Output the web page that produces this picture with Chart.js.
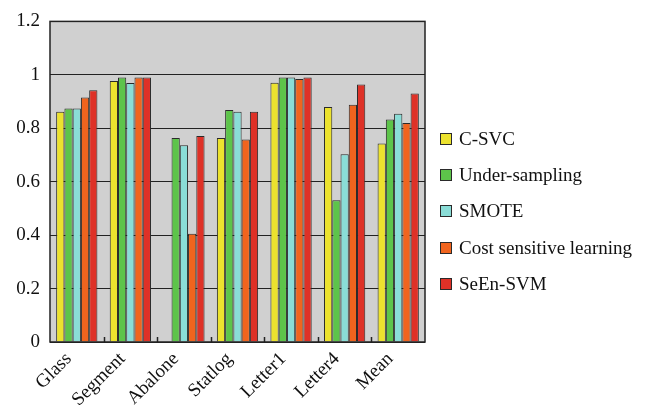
<!DOCTYPE html>
<html><head><meta charset="utf-8">
<script src="https://cdn.jsdelivr.net/npm/chart.js@4/dist/chart.umd.min.js"></script>
<style>
html,body{margin:0;padding:0;background:#fff;}
#wrap{position:relative;width:646px;height:405px;}
#legend{position:absolute;left:440px;top:0;font-family:'Liberation Serif',serif;font-size:19px;color:#111;}
.li{position:absolute;left:0;white-space:nowrap;height:20px;line-height:20px;}
.li span.b{position:absolute;left:0;top:4px;width:10px;height:10px;border:1px solid #2a2a2a;}
.li span.t{position:absolute;left:19px;top:0;}
</style>
</head><body><div id="wrap"><canvas id="c" width="646" height="405"></canvas><div id="legend"></div></div>
<script>
const categories = ["Glass","Segment","Abalone","Statlog","Letter1","Letter4","Mean"];
const seriesNames = ["C-SVC","Under-sampling","SMOTE","Cost sensitive learning","SeEn-SVM"];
const cSVC = [0.862,0.977,0,0.764,0.970,0.880,0.743];
const underSampling = [0.874,0.990,0.764,0.868,0.990,0.531,0.833];
const smote = [0.874,0.969,0.736,0.862,0.990,0.703,0.854];
const costSensitive = [0.915,0.990,0.405,0.758,0.984,0.888,0.820];
const seEnSVM = [0.942,0.990,0.771,0.862,0.990,0.964,0.930];
const yTicks = [0,0.2,0.4,0.6,0.8,1,1.2];
const colors = ["#ECE22E","#5DC44A","#8ADDD7","#F0641E","#DE3127"];
const values = [cSVC,underSampling,smote,costSensitive,seEnSVM];

const legendTops = [129,165,201,238,274];
const lg = document.getElementById('legend');
seriesNames.forEach((n,i)=>{
  const d=document.createElement('div'); d.className='li'; d.style.top=legendTops[i]+'px';
  d.innerHTML='<span class="b" style="background:'+colors[i]+'"></span><span class="t"></span>';
  d.querySelector('.t').textContent=n; lg.appendChild(d);
});

const bgPlugin = {
  id:'bg',
  beforeDraw(chart){
    const {ctx, chartArea:a} = chart;
    ctx.save(); ctx.fillStyle = '#D0D0D0';
    ctx.fillRect(a.left,a.top,a.right-a.left,a.bottom-a.top); ctx.restore();
  },
  afterDatasetsDraw(chart){
    const {ctx, chartArea:a, scales} = chart;
    ctx.save(); ctx.strokeStyle='#222'; ctx.lineWidth=1.5;
    const xs = scales.x;
    ctx.beginPath();
    for(let i=1;i<categories.length;i++){
      const x = Math.round((xs.getPixelForValue(i-1)+xs.getPixelForValue(i))/2)+0.5;
      ctx.moveTo(x,a.bottom); ctx.lineTo(x,a.bottom-5);
    }
    ctx.stroke();
    ctx.lineWidth=1.5;
    ctx.strokeRect(a.left,a.top,a.right-a.left,a.bottom-a.top);
    ctx.restore();
  }
};

new Chart(document.getElementById('c'),{
  type:'bar',
  data:{labels:categories,datasets:seriesNames.map((n,i)=>({label:n,data:values[i],backgroundColor:colors[i],borderColor:'#2a2a2a',borderWidth:1}))},
  options:{
    responsive:false,animation:false,
    layout:{autoPadding:false,padding:{top:17,left:16,right:221,bottom:0}},
    datasets:{bar:{categoryPercentage:0.77,barPercentage:1}},
    plugins:{tooltip:{enabled:false},legend:{display:false}},
    scales:{
      x:{grid:{display:false},border:{display:false},afterFit(s){s.height=63;},
        ticks:{color:'#111',font:{family:'Liberation Serif',size:19},maxRotation:45,minRotation:45,padding:-2,labelOffset:-8}},
      y:{min:0,max:1.2,afterBuildTicks(s){s.ticks=yTicks.map(v=>({value:v}));},afterFit(s){s.width=34;},
        grid:{color:'#222',lineWidth:1,drawTicks:false},border:{display:false},
        ticks:{color:'#111',font:{family:'Liberation Serif',size:19},padding:10,callback:v=>String(Math.round(v*10)/10)}}
    }
  },
  plugins:[bgPlugin]
});
</script></body></html>
